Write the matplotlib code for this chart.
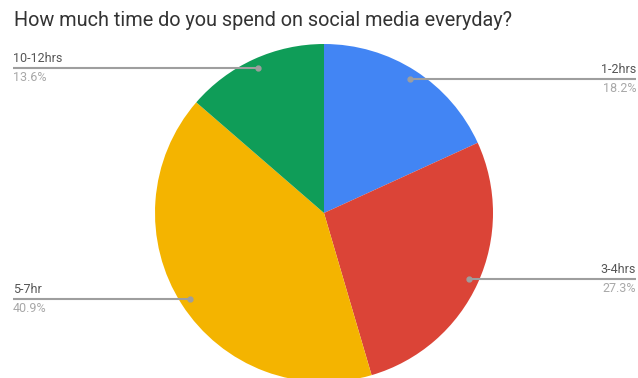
import numpy as np
import matplotlib.pyplot as plt

# --- datos del gráfico ---
categorias = ["1-2hrs", "3-4hrs", "5-7hr", "10-12hrs"]
respuestas = [4, 6, 9, 3]
colores = ["#4285F4", "#DB4437", "#F4B400", "#0F9D58"]
titulo = "How much time do you spend on social media everyday?"

W, H = 638, 378
fig = plt.figure(figsize=(W / 100, H / 100), dpi=100)
ax = fig.add_axes([0, 0, 1, 1])

cx, cy, R = 324, H - 213, 169
wedges, _ = ax.pie(respuestas, colors=colores, startangle=90, counterclock=False,
                   center=(cx, cy), radius=R, frame=True,
                   wedgeprops=dict(linewidth=0))
ax.set_xlim(0, W)
ax.set_ylim(0, H)
ax.set_aspect("equal")
ax.axis("off")

total = sum(respuestas)
for w, cat, val in zip(wedges, categorias, respuestas):
    ang = np.deg2rad((w.theta1 + w.theta2) / 2)
    px = cx + 0.945 * R * np.cos(ang)
    py = cy + 0.945 * R * np.sin(ang)
    if px > cx:
        x_end, ha = 636, "right"
    else:
        x_end, ha = 13, "left"
    ax.plot([px, x_end], [py, py], color="#9e9e9e", lw=1.5, solid_capstyle="butt", zorder=3)
    ax.plot(px, py, "o", color="#9e9e9e", ms=3.5, zorder=4)
    ax.text(x_end, py + 3, cat, ha=ha, va="bottom", fontsize=9,
            family="Roboto", color="#555555")
    ax.text(x_end, py - 3, f"{100 * val / total:.1f}%", ha=ha, va="top",
            fontsize=9, family="Roboto", color="#a8a8a8")

fig.text(14 / W, 1 - 20 / H, titulo, ha="left", va="center", fontsize=14.3,
         family="Roboto", color="#333333")

fig.savefig("out.png", dpi=100, facecolor="white")
